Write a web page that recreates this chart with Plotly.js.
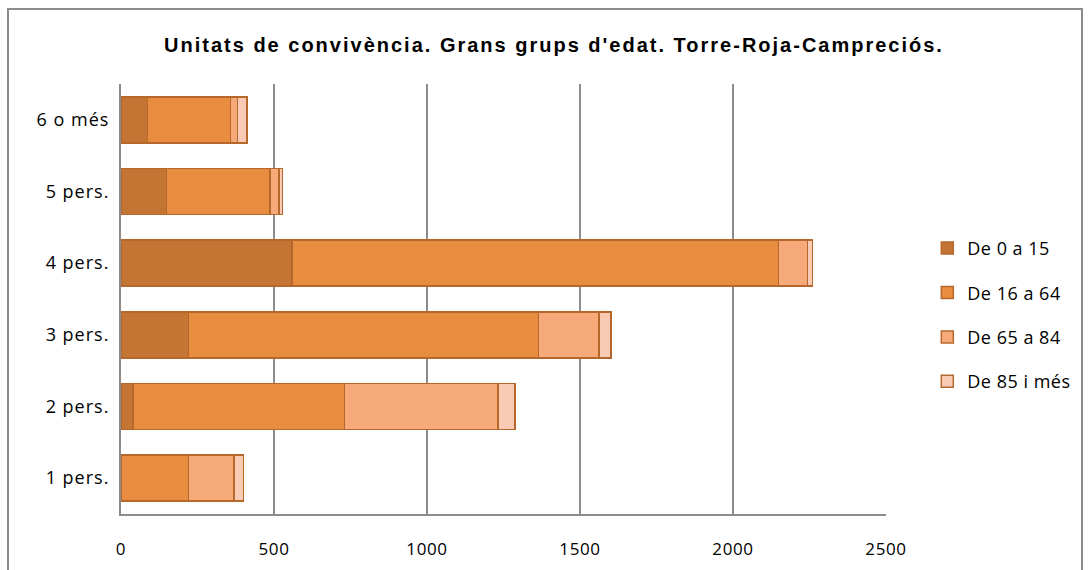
<!DOCTYPE html>
<html>
<head>
<meta charset="utf-8">
<script src="https://cdn.plot.ly/plotly-3.0.1.min.js"></script>
<style>
  body { margin: 0; padding: 0; background: #fff; }
  #chart { width: 1090px; height: 570px; }
  #frame { position: absolute; left: 7px; top: 8px; width: 1072px; height: 590px;
           border: 2px solid #8c8c8c; pointer-events: none; }
  #chart .gtitle { letter-spacing: 2px; }
  #chart .ytick text { letter-spacing: 1px; }
  #chart .xtick text { letter-spacing: 0.6px; }
  #chart .legendtext { letter-spacing: 0.5px; }
</style>
</head>
<body>
<div id="chart"></div>
<div id="frame"></div>
<script>
const categories = ["1 pers.", "2 pers.", "3 pers.", "4 pers.", "5 pers.", "6 o més"];
const seriesNames = ["De 0 a 15", "De 16 a 64", "De 65 a 84", "De 85 i més"];
const de0a15   = [0,   40,  221,  558, 149,  87];
const de16a64  = [220, 690, 1144, 1591, 338, 271];
const de65a84  = [149, 502, 197,  95,  29,  23];
const de85imes = [32,  56,  39,   16,  12,  30];
const xTicks = [0, 500, 1000, 1500, 2000, 2500];

const values = [de0a15, de16a64, de65a84, de85imes];
const colors = ["#C47533", "#E88C40", "#F7AA79", "#F9CBB4"];

const traces = values.map((v, i) => ({
  type: "bar",
  orientation: "h",
  name: seriesNames[i],
  y: categories,
  x: v,
  legendgroup: "g" + i,
  marker: { color: colors[i], line: { color: "#B6682C", width: 1.5 } },
  hoverinfo: "x+y+name"
}));

const tickFont = { family: "Open Sans, Lato, sans-serif", size: 17, color: "#000" };

const layout = {
  width: 1090,
  height: 570,
  barmode: "stack",
  bargap: 0.36,
  paper_bgcolor: "#fff",
  plot_bgcolor: "#fff",
  margin: { l: 121, r: 204, t: 84, b: 56 },
  title: {
    text: "<b>Unitats de convivència. Grans grups d'edat. Torre-Roja-Campreciós.</b>",
    font: { family: "Liberation Sans, Arial, sans-serif", size: 20, color: "#000" },
    x: 554 / 1090, xanchor: "center", xref: "container",
    y: 1 - 45 / 570, yanchor: "middle"
  },
  xaxis: {
    range: [0, 2500],
    tickvals: xTicks,
    ticktext: xTicks.map(String),
    showgrid: true,
    gridcolor: "#8c8c8c",
    gridwidth: 2,
    zeroline: false,
    showline: true,
    linecolor: "#8c8c8c",
    linewidth: 2,
    ticks: "",
    ticklen: 0,
    ticklabelstandoff: 19,
    tickfont: tickFont,
    fixedrange: true
  },
  yaxis: {
    categoryorder: "array",
    categoryarray: categories,
    showgrid: false,
    zeroline: false,
    showline: true,
    linecolor: "#8c8c8c",
    linewidth: 2,
    ticks: "",
    ticklabelstandoff: 6,
    tickfont: { family: "Open Sans, Lato, sans-serif", size: 18, color: "#000" },
    fixedrange: true
  },
  showlegend: true,
  legend: {
    x: 1.054, xanchor: "left",
    y: 0.463, yanchor: "middle",
    traceorder: "grouped",
    tracegroupgap: 18,
    font: { family: "Open Sans, Lato, sans-serif", size: 18, color: "#000" },
    itemwidth: 30
  }
};

Plotly.newPlot("chart", traces, layout, { displayModeBar: false, staticPlot: true });
</script>
</body>
</html>
